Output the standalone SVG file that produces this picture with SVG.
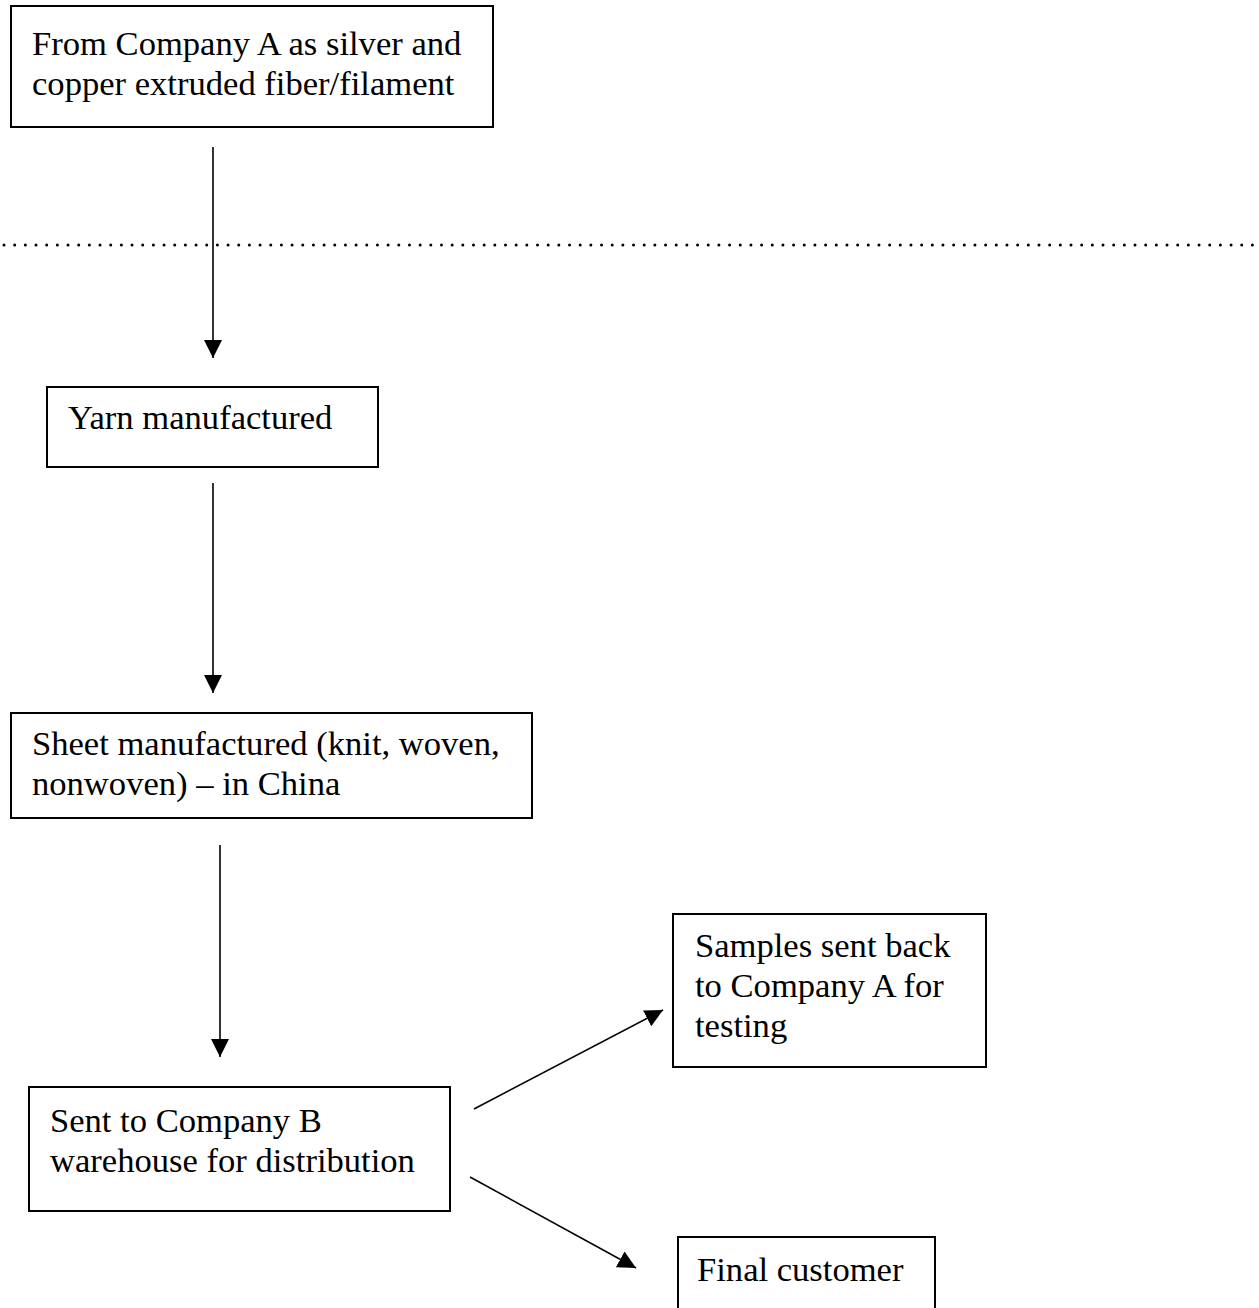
<svg xmlns="http://www.w3.org/2000/svg" width="1259" height="1308" viewBox="0 0 1259 1308">
  <style>
    .box { fill: #ffffff; stroke: #000000; stroke-width: 2; }
    .label { font-family: "Liberation Serif", "Times New Roman", serif; font-size: 34.6px; fill: #000000; }
    .link { fill: none; stroke: #000000; stroke-width: 1.6; marker-end: url(#arrow); }
    .divider { fill: none; stroke: #000000; stroke-width: 3; stroke-linecap: round; stroke-dasharray: 0 10.67; }
  </style>
  <defs>
    <marker id="arrow" markerUnits="userSpaceOnUse" markerWidth="18" markerHeight="18" viewBox="0 0 16 16" refX="16" refY="8" orient="auto">
      <path d="M0,0 L16,8 L0,16 Z" fill="#000000"/>
    </marker>
  </defs>
  <rect width="1259" height="1308" fill="#ffffff"/>

  <!-- dotted boundary line -->
  <line class="divider" x1="4" y1="245" x2="1259" y2="245"/>

  <g id="connectors">
    <line class="link" x1="213" y1="147" x2="213" y2="358"/>
    <line class="link" x1="213" y1="483" x2="213" y2="693"/>
    <line class="link" x1="220" y1="845" x2="220" y2="1057"/>
    <line class="link" x1="474" y1="1109" x2="663" y2="1010"/>
    <line class="link" x1="470" y1="1177" x2="636" y2="1268"/>
  </g>

  <g id="source">
    <rect class="box" x="11" y="6" width="482" height="121"/>
    <text class="label" x="32" y="55">From Company A as silver and</text>
    <text class="label" x="32" y="95">copper extruded fiber/filament</text>
  </g>

  <g id="yarn">
    <rect class="box" x="47" y="387" width="331" height="80"/>
    <text class="label" x="68" y="429">Yarn manufactured</text>
  </g>

  <g id="sheet">
    <rect class="box" x="11" y="713" width="521" height="105"/>
    <text class="label" x="32" y="755">Sheet manufactured (knit, woven,</text>
    <text class="label" x="32" y="795">nonwoven) – in China</text>
  </g>

  <g id="warehouse">
    <rect class="box" x="29" y="1087" width="421" height="124"/>
    <text class="label" x="50" y="1132">Sent to Company B</text>
    <text class="label" x="50" y="1172">warehouse for distribution</text>
  </g>

  <g id="samples">
    <rect class="box" x="673" y="914" width="313" height="153"/>
    <text class="label" x="695" y="957">Samples sent back</text>
    <text class="label" x="695" y="997">to Company A for</text>
    <text class="label" x="695" y="1037">testing</text>
  </g>

  <g id="customer">
    <rect class="box" x="678" y="1237" width="257" height="90"/>
    <text class="label" x="697" y="1281">Final customer</text>
  </g>
</svg>
